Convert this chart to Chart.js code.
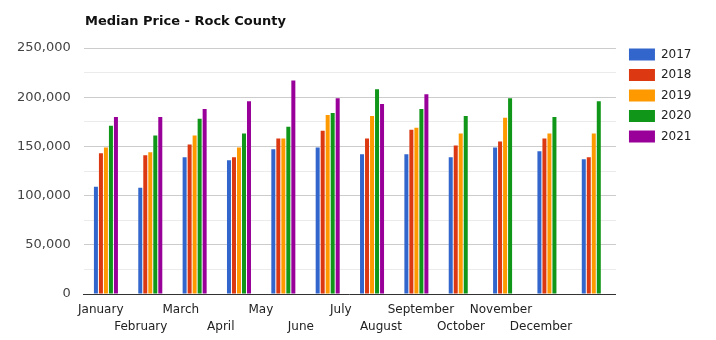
<!DOCTYPE html>
<html>
<head>
<meta charset="utf-8">
<script src="https://cdn.jsdelivr.net/npm/chart.js@4"></script>
<style>
  html, body { margin: 0; padding: 0; background: #fff; }
  #wrap { position: relative; width: 716px; height: 340px; }
  #title { position: absolute; left: 85px; top: 13px; font: bold 13px "DejaVu Sans", Verdana, sans-serif; color: #111; line-height: 16px; white-space: nowrap; }
  canvas { position: absolute; left: 0; top: 0; }
</style>
</head>
<body>
<div id="wrap">
  <canvas id="c" width="716" height="340"></canvas>
  <div id="title">Median Price - Rock County</div>
</div>
<script>
const months = ["January","February","March","April","May","June","July","August","September","October","November","December"];
const seriesNames = ["2017","2018","2019","2020","2021"];
const y2017 = [109000,108000,139000,136000,147000,149000,142000,142000,139000,149000,145000,137000];
const y2018 = [143000,141000,152000,139000,158000,166000,158000,167000,151000,155000,158000,139000];
const y2019 = [149000,144000,161000,149000,158000,182000,181000,169000,163000,179000,163000,163000];
const y2020 = [171000,161000,178000,163000,170000,184000,208000,188000,181000,199000,180000,196000];
const y2021 = [180000,180000,188000,196000,217000,199000,193000,203000,null,null,null,null];
const colors = ["#3366cc","#dc3912","#ff9900","#109618","#990099"];
const yMax = 250000, yStep = 25000, yLabelStep = 50000;

const FONT = '"DejaVu Sans", Verdana, sans-serif';

const staggeredLabels = {
  id: 'staggeredLabels',
  afterDraw(chart) {
    const xs = chart.scales.x;
    const ctx = chart.ctx;
    const left = chart.chartArea.left;
    const bottom = chart.chartArea.bottom;
    ctx.save();
    ctx.font = '12px ' + FONT;
    ctx.fillStyle = '#222';
    ctx.textAlign = 'center';
    ctx.textBaseline = 'middle';
    months.forEach((m, i) => {
      const cx = xs.getPixelForValue(i);
      const x = left + 0.9023 * (cx - left) - 3;
      const y = bottom + (i % 2 === 0 ? 16 : 33);
      ctx.fillText(m, x, y);
    });
    ctx.restore();
  }
};

const legendShift = {
  id: 'legendShift',
  afterLayout(chart) {
    if (chart.legend) { chart.legend.left += 4.5; chart.legend.right += 4.5; }
  }
};

const data = {
  labels: months,
  datasets: [y2017, y2018, y2019, y2020, y2021].map((d, i) => ({
    label: seriesNames[i],
    data: d,
    backgroundColor: colors[i],
    borderWidth: 0,
    categoryPercentage: 0.564,
    barPercentage: 0.8
  }))
};

new Chart(document.getElementById('c'), {
  type: 'bar',
  data,
  plugins: [staggeredLabels, legendShift],
  options: {
    responsive: false,
    animation: false,
    layout: { padding: { left: 4, right: 19, top: 40, bottom: 46 } },
    plugins: {
      title: { display: false },
      tooltip: { enabled: false },
      legend: {
        position: 'right',
        align: 'start',
        labels: {
          boxWidth: 26,
          boxHeight: 12,
          padding: 8.5,
          color: '#222',
          font: { family: FONT, size: 12 }
        }
      }
    },
    scales: {
      x: {
        grid: { display: false, drawTicks: false },
        border: { display: true, color: '#333', width: 1 },
        ticks: { display: false }
      },
      y: {
        min: 0,
        max: yMax,
        border: { display: false },
        afterFit(s) { s.paddingTop = 48; },
        grid: {
          drawTicks: false,
          color: (ctx) => (ctx.tick && ctx.tick.value % yLabelStep === 0) ? '#cccccc' : '#ebebeb',
          lineWidth: 1
        },
        ticks: {
          stepSize: yStep,
          padding: 13,
          color: '#444',
          font: { family: FONT, size: 13 },
          callback: (v) => v % yLabelStep === 0 ? v.toLocaleString('en-US') : ''
        }
      }
    }
  }
});
</script>
</body>
</html>
